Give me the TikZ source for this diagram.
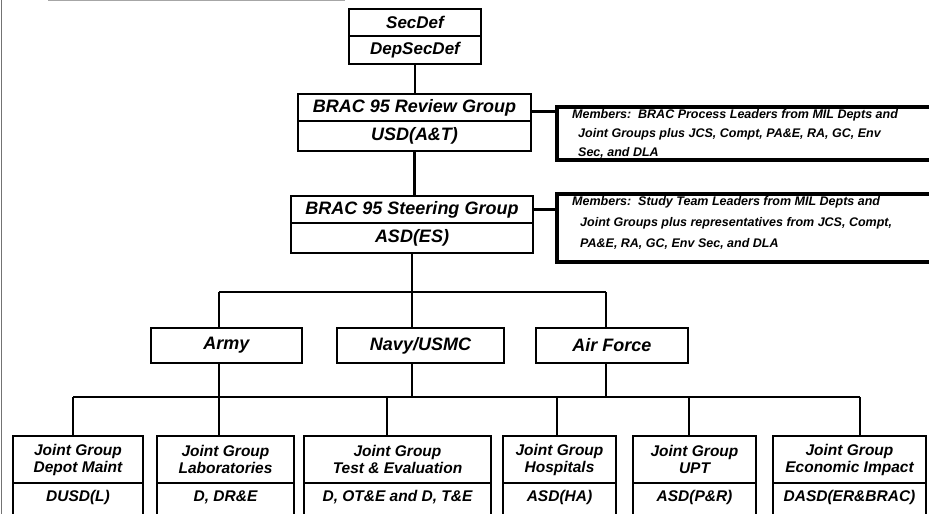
\documentclass[tikz,border=0pt]{standalone}
\usepackage{fontspec}
\setmainfont{Liberation Sans}
\begin{document}
\begin{tikzpicture}[x=1pt,y=-1pt,
  cell/.style={draw, line width=2pt, inner sep=0pt, anchor=north west, align=center,
    font=\bfseries\itshape\fontsize{18}{21}\selectfont},
  cellS/.style={cell, font=\bfseries\itshape\fontsize{17}{20}\selectfont},
  cellJ/.style={cell, font=\bfseries\itshape\fontsize{15.5}{17}\selectfont},
  jtxt/.style={inner sep=0pt, font=\bfseries\itshape\fontsize{15.5}{17}\selectfont},
  membox/.style={draw, line width=3.6pt, inner sep=0pt, anchor=north west},
  memtxt/.style={inner sep=0pt, anchor=north west, align=left,
    font=\bfseries\itshape\fontsize{12.5}{19}\selectfont},
  conn/.style={line width=2.2pt},
  thickconn/.style={line width=3.2pt},
  scan/.style={line width=0.9pt, draw=black!55}]
\useasboundingbox (0,0) rectangle (929,514);
\clip (0,0) rectangle (929,514);

% scan edges
\coordinate (edgeT) at (1.2,0);
\coordinate (edgeB) at (1.2,514);
\draw[scan] (edgeT) -- (edgeB);
\coordinate (topL) at (48,0.8);
\coordinate (topR) at (345,0.8);
\draw[scan, draw=black!35] (topL) -- (topR);

% top
\node[cellS, minimum width=132pt, minimum height=27pt] (secdef) at (348,8) {SecDef};
\node[cellS, minimum width=132pt, minimum height=28pt] (depsec) at (348,35) {DepSecDef};

% review group
\node[cell, minimum width=233pt, minimum height=27pt] (review) at (297,93) {BRAC 95 Review Group};
\node[cell, minimum width=233pt, minimum height=30pt] (usd) at (297,120) {USD(A\&T)};

% steering group
\node[cell, minimum width=242pt, minimum height=27pt] (steer) at (290,195) {BRAC 95 Steering Group};
\node[cell, minimum width=242pt, minimum height=30pt] (asd) at (290,222) {ASD(ES)};

% members boxes
\node[membox, minimum width=390pt, minimum height=53pt] (mem1) at (555,105) {};
\node[memtxt] (mem1t) at (572,109) {Members:\ \ BRAC Process Leaders from MIL Depts and\\
  \hspace*{6pt}Joint Groups plus JCS, Compt, PA\&E, RA, GC, Env\\
  \hspace*{6pt}Sec, and DLA};
\node[membox, minimum width=390pt, minimum height=68pt] (mem2) at (555,192) {};
\node[memtxt, font=\bfseries\itshape\fontsize{12.5}{21}\selectfont] (mem2t) at (572,196) {Members:\ \ Study Team Leaders from MIL Depts and\\
  \hspace*{8pt}Joint Groups plus representatives from JCS, Compt,\\
  \hspace*{8pt}PA\&E, RA, GC, Env Sec, and DLA};

% services
\node[cell, minimum width=151pt, minimum height=35pt] (army) at (150,327) {Army};
\node[cell, minimum width=167pt, minimum height=35pt] (navy) at (336,327) {Navy/USMC};
\node[cell, minimum width=152pt, minimum height=35pt] (af) at (535,327) {Air Force};

% joint groups (upper parts)
\node[cellJ, minimum width=130pt, minimum height=47pt] (depot) at (12,435) {Joint Group\\Depot Maint};
\node[cellJ, minimum width=137pt, minimum height=47pt] (labs) at (156,435) {Joint Group\\Laboratories};
\node[cellJ, minimum width=187pt, minimum height=47pt] (te) at (303,435) {Joint Group\\Test \& Evaluation};
\node[cellJ, minimum width=113pt, minimum height=47pt] (hosp) at (502,435) {Joint Group\\Hospitals};
\node[cellJ, minimum width=123pt, minimum height=47pt] (upt) at (632,435) {Joint Group\\UPT};
\node[cellJ, minimum width=153pt, minimum height=47pt] (econ) at (772,435) {Joint Group\\Economic Impact};

% joint groups (lower parts, cut by the page edge)
\node[cellJ, minimum width=130pt, minimum height=40pt] (depotB) at (12,482) {};
\node[cellJ, minimum width=137pt, minimum height=40pt] (labsB) at (156,482) {};
\node[cellJ, minimum width=187pt, minimum height=40pt] (teB) at (303,482) {};
\node[cellJ, minimum width=113pt, minimum height=40pt] (hospB) at (502,482) {};
\node[cellJ, minimum width=123pt, minimum height=40pt] (uptB) at (632,482) {};
\node[cellJ, minimum width=153pt, minimum height=40pt] (econB) at (772,482) {};
\path (depotB.north) ++(0,15) node[jtxt] (depotT) {DUSD(L)};
\path (labsB.north) ++(0,15) node[jtxt] (labsT) {D, DR\&E};
\path (teB.north) ++(0,15) node[jtxt] (teT) {D, OT\&E and D, T\&E};
\path (hospB.north) ++(0,15) node[jtxt] (hospT) {ASD(HA)};
\path (uptB.north) ++(0,15) node[jtxt] (uptT) {ASD(P\&R)};
\path (econB.north) ++(0,15) node[jtxt] (econT) {DASD(ER\&BRAC)};

% connectors
\draw[conn] (depsec.south) -- (depsec.south |- review.north);
\draw[conn] (usd.south) -- (usd.south |- steer.north);
\draw[thickconn] ([yshift=-4pt]review.east) -- ([yshift=-4pt]review.east -| mem1.west);
\draw[thickconn] (steer.east) -- (steer.east -| mem2.west);

% service bus
\coordinate (busA) at (219,292);
\coordinate (busC) at (606,292);
\draw[conn] (busA) -- (busC);
\draw[conn] (asd.south) -- (asd.south |- navy.north);
\draw[conn] (busA) -- (busA |- army.north);
\draw[conn] (busC) -- (busC |- af.north);

% joint group bus
\coordinate (jb1) at (73,397);
\coordinate (jb2) at (219,397);
\coordinate (jb3) at (387,397);
\coordinate (jb4) at (557,397);
\coordinate (jb5) at (689,397);
\coordinate (jb6) at (860,397);
\draw[conn] (jb1) -- (jb6);
\draw[conn] (busA |- army.south) -- (jb2);
\draw[conn] (asd.south |- navy.south) -- (asd.south |- jb1);
\draw[conn] (busC |- af.south) -- (busC |- jb1);
\draw[conn] (jb1) -- (jb1 |- depot.north);
\draw[conn] (jb2) -- (jb2 |- labs.north);
\draw[conn] (jb3) -- (jb3 |- te.north);
\draw[conn] (jb4) -- (jb4 |- hosp.north);
\draw[conn] (jb5) -- (jb5 |- upt.north);
\draw[conn] (jb6) -- (jb6 |- econ.north);
\end{tikzpicture}
\end{document}
